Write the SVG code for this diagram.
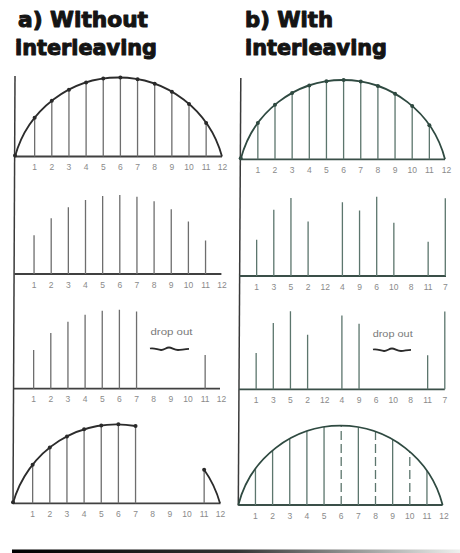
<svg xmlns="http://www.w3.org/2000/svg" width="460" height="553" viewBox="0 0 460 553">
<style>
.title{font-family:"DejaVu Sans","Liberation Sans",sans-serif;font-weight:bold;font-size:20.5px;fill:#141414;stroke:#141414;stroke-width:1;stroke-linejoin:round}
.lbl{font-family:"Liberation Sans","DejaVu Sans",sans-serif;font-size:8.5px;fill:#8a8a8a;text-anchor:middle}
.drop{font-family:"Liberation Sans","DejaVu Sans",sans-serif;font-size:9.5px;fill:#7a7a7a}
.axis{stroke:#3a3a3a;stroke-width:1.5;fill:none}
.base{stroke:#404040;stroke-width:1.8;fill:none}
.sampA{stroke:#6e6e6e;stroke-width:1.3;fill:none}
.sampB{stroke:#5c766d;stroke-width:1.3;fill:none}
.curveA{stroke:#2c2c2c;stroke-width:1.8;fill:none}
.curveB{stroke:#2f4a41;stroke-width:1.8;fill:none}
.baseB{stroke:#3a4f48;stroke-width:1.8;fill:none}
.dash{stroke-dasharray:9 4}
.dotA{fill:#2a2a2a}
.dotB{fill:#2f4a41}
.wave{stroke:#2a2a2a;stroke-width:1.8;fill:none}
</style>
<defs>
<linearGradient id="fade" x1="0" y1="0" x2="1" y2="0">
<stop offset="0" stop-color="#000"/>
<stop offset="0.5" stop-color="#333"/>
<stop offset="1" stop-color="#eef0ee"/>
</linearGradient>
</defs>

<g id="titles">
<text class="title" x="18" y="27" textLength="130" lengthAdjust="spacingAndGlyphs">a) Without</text>
<text class="title" x="15" y="55" textLength="142" lengthAdjust="spacingAndGlyphs">interleaving</text>
<text class="title" x="245" y="27" textLength="88" lengthAdjust="spacingAndGlyphs">b) With</text>
<text class="title" x="245" y="55" textLength="142" lengthAdjust="spacingAndGlyphs">interleaving</text>
</g>

<g id="axes">
<line class="axis" x1="15" y1="76" x2="13" y2="504"/>
<line class="axis" x1="240.8" y1="78" x2="238.3" y2="505.5"/>
</g>

<!-- Panel a, row 1 -->
<g id="a-row1" transform="translate(15,156.5)">
<line class="base" x1="0" y1="0" x2="207" y2="0"/>
<path class="sampA" d="M19.65,0V-38.65M36.8,0V-55.75M53.95,0V-66.87M71.1,0V-73.99M88.25,0V-77.91M105.4,0V-78.98M122.55,0V-77.3M139.7,0V-72.71M156.85,0V-64.8M174,0V-52.59M191.15,0V-33.59"/>
<path class="curveA" d="M0,0A107.3,107.3 0 0 1 207,0"/>
<g class="dotA">
<circle cx="0" cy="-1" r="2"/><circle cx="19.65" cy="-38.65" r="2"/><circle cx="36.8" cy="-55.75" r="2"/><circle cx="53.95" cy="-66.87" r="2"/><circle cx="71.1" cy="-73.99" r="2"/><circle cx="88.25" cy="-77.91" r="2"/><circle cx="105.4" cy="-78.98" r="2"/><circle cx="122.55" cy="-77.3" r="2"/><circle cx="139.7" cy="-72.71" r="2"/><circle cx="156.85" cy="-64.8" r="2"/><circle cx="174" cy="-52.59" r="2"/><circle cx="191.15" cy="-33.59" r="2"/>
</g>
<g class="lbl">
<text x="19.65" y="13.5">1</text><text x="36.8" y="13.5">2</text><text x="53.95" y="13.5">3</text><text x="71.1" y="13.5">4</text><text x="88.25" y="13.5">5</text><text x="105.4" y="13.5">6</text><text x="122.55" y="13.5">7</text><text x="139.7" y="13.5">8</text><text x="156.85" y="13.5">9</text><text x="174" y="13.5">10</text><text x="191.15" y="13.5">11</text><text x="207.5" y="13.5">12</text>
</g>
</g>

<!-- Panel a, row 2 -->
<g id="a-row2" transform="translate(14.4,274)">
<line class="base" x1="0" y1="0" x2="207" y2="0"/>
<path class="sampA" d="M19.65,0V-38.65M36.8,0V-55.75M53.95,0V-66.87M71.1,0V-73.99M88.25,0V-77.91M105.4,0V-78.98M122.55,0V-77.3M139.7,0V-72.71M156.85,0V-64.8M174,0V-52.59M191.15,0V-33.59"/>
<g class="lbl">
<text x="19.65" y="13.5">1</text><text x="36.8" y="13.5">2</text><text x="53.95" y="13.5">3</text><text x="71.1" y="13.5">4</text><text x="88.25" y="13.5">5</text><text x="105.4" y="13.5">6</text><text x="122.55" y="13.5">7</text><text x="139.7" y="13.5">8</text><text x="156.85" y="13.5">9</text><text x="174" y="13.5">10</text><text x="191.15" y="13.5">11</text><text x="207.5" y="13.5">12</text>
</g>
</g>

<!-- Panel a, row 3 -->
<g id="a-row3" transform="translate(14,388.7)">
<line class="base" x1="0" y1="0" x2="206" y2="0"/>
<path class="sampA" d="M19.65,0V-38.65M36.8,0V-55.75M53.95,0V-66.87M71.1,0V-73.99M88.25,0V-77.91M105.4,0V-78.98M122.55,0V-77.3M191.15,0V-33.59"/>
<g class="lbl">
<text x="19.65" y="13.5">1</text><text x="36.8" y="13.5">2</text><text x="53.95" y="13.5">3</text><text x="71.1" y="13.5">4</text><text x="88.25" y="13.5">5</text><text x="105.4" y="13.5">6</text><text x="122.55" y="13.5">7</text><text x="139.7" y="13.5">8</text><text x="156.85" y="13.5">9</text><text x="174" y="13.5">10</text><text x="191.15" y="13.5">11</text><text x="207.5" y="13.5">12</text>
</g>
</g>
<g id="a-dropout">
<text class="drop" x="150.5" y="335" textLength="42" lengthAdjust="spacingAndGlyphs">drop out</text>
<path class="wave" d="M150,348.5c4,-1 7,1 11,1.5c3,0.3 5,-2.5 8,-2.5c3,0 5,2.5 9,2.5c3,0 6,-1 11,-1.2"/>
</g>

<!-- Panel a, row 4 -->
<g id="a-row4" transform="translate(13,503.3)">
<line class="base" x1="0" y1="0" x2="207.5" y2="0"/>
<path class="sampA" d="M19.65,0V-38.65M36.8,0V-55.75M53.95,0V-66.87M71.1,0V-73.99M88.25,0V-77.91M105.4,0V-78.98M122.55,0V-77.3M191.15,0V-33.59"/>
<path class="curveA" d="M0,0A107.3,107.3 0 0 1 122.55,-77.3M191.15,-33.59A107.3,107.3 0 0 1 207,0"/>
<g class="dotA">
<circle cx="0" cy="-1" r="2"/><circle cx="19.65" cy="-38.65" r="2"/><circle cx="36.8" cy="-55.75" r="2"/><circle cx="53.95" cy="-66.87" r="2"/><circle cx="71.1" cy="-73.99" r="2"/><circle cx="88.25" cy="-77.91" r="2"/><circle cx="105.4" cy="-78.98" r="2"/><circle cx="122.55" cy="-77.3" r="2"/><circle cx="191.15" cy="-33.59" r="2"/>
</g>
<g class="lbl">
<text x="19.65" y="13.5">1</text><text x="36.8" y="13.5">2</text><text x="53.95" y="13.5">3</text><text x="71.1" y="13.5">4</text><text x="88.25" y="13.5">5</text><text x="105.4" y="13.5">6</text><text x="122.55" y="13.5">7</text><text x="139.7" y="13.5">8</text><text x="156.85" y="13.5">9</text><text x="174" y="13.5">10</text><text x="191.15" y="13.5">11</text><text x="207.5" y="13.5">12</text>
</g>
</g>

<!-- Panel b, row 1 -->
<g id="b-row1" transform="translate(240.7,159.3)">
<line class="baseB" x1="0" y1="0" x2="204.3" y2="0"/>
<path class="sampB" d="M17.15,0V-36.25M34.3,0V-54.57M51.45,0V-66.31M68.6,0V-73.82M85.75,0V-78.02M102.9,0V-79.3M120.05,0V-77.77M137.2,0V-73.3M154.35,0V-65.47M171.5,0V-53.28M188.65,0V-34.15"/>
<path class="curveB" d="M0,0A105.44,105.44 0 0 1 204.3,0"/>
<g class="dotB">
<circle cx="0" cy="-1" r="2"/><circle cx="17.15" cy="-36.25" r="2"/><circle cx="34.3" cy="-54.57" r="2"/><circle cx="51.45" cy="-66.31" r="2"/><circle cx="68.6" cy="-73.82" r="2"/><circle cx="85.75" cy="-78.02" r="2"/><circle cx="102.9" cy="-79.3" r="2"/><circle cx="120.05" cy="-77.77" r="2"/><circle cx="137.2" cy="-73.3" r="2"/><circle cx="154.35" cy="-65.47" r="2"/><circle cx="171.5" cy="-53.28" r="2"/><circle cx="188.65" cy="-34.15" r="2"/>
</g>
<g class="lbl">
<text x="17.15" y="13.5">1</text><text x="34.3" y="13.5">2</text><text x="51.45" y="13.5">3</text><text x="68.6" y="13.5">4</text><text x="85.75" y="13.5">5</text><text x="102.9" y="13.5">6</text><text x="120.05" y="13.5">7</text><text x="137.2" y="13.5">8</text><text x="154.35" y="13.5">9</text><text x="171.5" y="13.5">10</text><text x="188.65" y="13.5">11</text><text x="205.8" y="13.5">12</text>
</g>
</g>

<!-- Panel b, row 2 -->
<g id="b-row2" transform="translate(239.5,276)">
<line class="baseB" x1="0" y1="0" x2="206.5" y2="0"/>
<path class="sampB" d="M17.15,0V-36.25M34.3,0V-66.31M51.45,0V-78.02M68.6,0V-54.57M102.9,0V-73.82M120.05,0V-65.47M137.2,0V-79.3M154.35,0V-53.28M188.65,0V-34.15M205.8,0V-77.77"/>
<g class="lbl">
<text x="17.15" y="13.5">1</text><text x="34.3" y="13.5">3</text><text x="51.45" y="13.5">5</text><text x="68.6" y="13.5">2</text><text x="85.75" y="13.5">12</text><text x="102.9" y="13.5">4</text><text x="120.05" y="13.5">9</text><text x="137.2" y="13.5">6</text><text x="154.35" y="13.5">10</text><text x="171.5" y="13.5">8</text><text x="188.65" y="13.5">11</text><text x="205.8" y="13.5">7</text>
</g>
</g>

<!-- Panel b, row 3 -->
<g id="b-row3" transform="translate(239,389.3)">
<line class="baseB" x1="0" y1="0" x2="205.8" y2="0"/>
<path class="sampB" d="M17.15,0V-36.25M34.3,0V-66.31M51.45,0V-78.02M68.6,0V-54.57M102.9,0V-73.82M120.05,0V-65.47M188.65,0V-34.15M205.8,0V-77.77"/>
<g class="lbl">
<text x="17.15" y="13.5">1</text><text x="34.3" y="13.5">3</text><text x="51.45" y="13.5">5</text><text x="68.6" y="13.5">2</text><text x="85.75" y="13.5">12</text><text x="102.9" y="13.5">4</text><text x="120.05" y="13.5">9</text><text x="137.2" y="13.5">6</text><text x="154.35" y="13.5">10</text><text x="171.5" y="13.5">8</text><text x="188.65" y="13.5">11</text><text x="205.8" y="13.5">7</text>
</g>
</g>
<g id="b-dropout">
<text class="drop" x="372.7" y="337" textLength="40" lengthAdjust="spacingAndGlyphs">drop out</text>
<path class="wave" d="M373,349.5c4,-1 7,1 11,1.5c3,0.3 5,-2.5 8,-2.5c3,0 5,2.5 9,2.5c3,0 6,-1 10,-1.2"/>
</g>

<!-- Panel b, row 4 -->
<g id="b-row4" transform="translate(238.3,505)">
<line class="baseB" x1="0" y1="0" x2="204.3" y2="0"/>
<path class="sampB" d="M17.15,0V-36.25M34.3,0V-54.57M51.45,0V-66.31M68.6,0V-73.82M85.75,0V-78.02M120.05,0V-77.77M154.35,0V-65.47M188.65,0V-34.15"/>
<path class="sampB dash" d="M102.9,0V-79.3M137.2,0V-73.3M171.5,0V-53.28"/>
<path class="curveB" d="M0,0A105.44,105.44 0 0 1 204.3,0"/>
<g class="lbl">
<text x="17.15" y="13.5">1</text><text x="34.3" y="13.5">2</text><text x="51.45" y="13.5">3</text><text x="68.6" y="13.5">4</text><text x="85.75" y="13.5">5</text><text x="102.9" y="13.5">6</text><text x="120.05" y="13.5">7</text><text x="137.2" y="13.5">8</text><text x="154.35" y="13.5">9</text><text x="171.5" y="13.5">10</text><text x="188.65" y="13.5">11</text><text x="205.8" y="13.5">12</text>
</g>
</g>

<rect id="rule" x="12" y="549.5" width="448" height="3.5" fill="url(#fade)"/>
</svg>
